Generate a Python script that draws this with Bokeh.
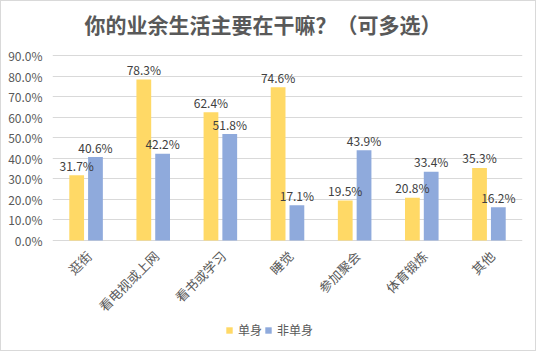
import math
from bokeh.plotting import figure
from bokeh.models import (ColumnDataSource, Legend, LegendItem, PrintfTickFormatter,
                          FixedTicker, Range1d)
from bokeh.transform import dodge
from bokeh.core.properties import value
from bokeh.embed import file_html
from bokeh.resources import INLINE

# ---- data ----
categories = ["逛街", "看电视或上网", "看书或学习", "睡觉", "参加聚会", "体育锻炼", "其他"]
single = [31.7, 78.3, 62.4, 74.6, 19.5, 20.8, 35.3]
non_single = [40.6, 42.2, 51.8, 17.1, 43.9, 33.4, 16.2]
series_names = ["单身", "非单身"]
y_ticks = [0, 10, 20, 30, 40, 50, 60, 70, 80, 90]
title_text = "你的业余生活主要在干嘛？（可多选）"

FONT = "Noto Sans CJK SC"
TXT = "#595959"

src = ColumnDataSource(dict(
    cat=categories,
    zero=[0] * len(categories),
    single=single,
    non_single=non_single,
    single_lbl=[f"{v:.1f}%" for v in single],
    non_single_lbl=[f"{v:.1f}%" for v in non_single],
))

# the frame spans (almost) the whole canvas: it also holds the title,
# the rotated category labels and the legend
p = figure(x_range=categories, y_range=Range1d(-54.0, 115.8), width=536, height=351,
           output_backend="svg", toolbar_location=None,
           min_border_left=51, min_border_right=15, min_border_top=1, min_border_bottom=1)
p.styles = {"border": "1px solid #d9d9d9", "box-sizing": "border-box"}

r1 = p.vbar(x=dodge("cat", -0.14, range=p.x_range), top="single", width=0.22,
            source=src, fill_color="#FFD966", line_color=None)
r2 = p.vbar(x=dodge("cat", 0.14, range=p.x_range), top="non_single", width=0.22,
            source=src, fill_color="#8FAADC", line_color=None)

p.text(x=dodge("cat", -0.14, range=p.x_range), y="single", text="single_lbl", source=src,
       text_align="center", text_baseline="alphabetic", y_offset=-10,
       text_font=value(FONT), text_font_size="12px", text_color="#404040")
p.text(x=dodge("cat", 0.14, range=p.x_range), y="non_single", text="non_single_lbl", source=src,
       text_align="center", text_baseline="alphabetic", y_offset=-10,
       text_font=value(FONT), text_font_size="12px", text_color="#404040")

# category labels, rotated 45 degrees
p.text(x="cat", y="zero", text="cat", source=src, angle=math.pi / 4,
       text_align="right", text_baseline="middle", x_offset=3, y_offset=13,
       text_font=value(FONT), text_font_size="13px", text_color=TXT)

# chart title (drawn as text above the 90% line)
title_src = ColumnDataSource(dict(x=[categories[0]], y=[max(y_ticks)], t=[title_text]))
p.text(x=dodge("x", -0.5, range=p.x_range), y="y", text="t", source=title_src,
       text_align="left", text_baseline="middle", x_offset=32, y_offset=-32,
       text_font=value(FONT), text_font_size="21px", text_font_style="bold",
       text_color=TXT)

# axes / grid
p.outline_line_color = None
p.xgrid.grid_line_color = None
p.xaxis.visible = False
p.ygrid.grid_line_color = "#d9d9d9"
p.ygrid.ticker = FixedTicker(ticks=y_ticks)
p.yaxis.ticker = FixedTicker(ticks=y_ticks)
p.yaxis.formatter = PrintfTickFormatter(format="%.1f%%")
p.yaxis.axis_line_color = None
p.yaxis.major_tick_line_color = None
p.yaxis.minor_tick_line_color = None
p.yaxis.major_label_standoff = 4
p.yaxis.major_label_text_font = FONT
p.yaxis.major_label_text_font_size = "12px"
p.yaxis.major_label_text_color = TXT

legend = Legend(items=[LegendItem(label=series_names[0], renderers=[r1]),
                       LegendItem(label=series_names[1], renderers=[r2])],
                orientation="horizontal", location=(173, 13),
                glyph_width=8, glyph_height=8, label_standoff=5, spacing=2,
                padding=0, margin=0, background_fill_alpha=0, border_line_color=None,
                label_text_font=FONT, label_text_font_size="12px", label_text_color=TXT,
                label_height=14, label_width=10)
p.add_layout(legend, "center")

open("out.html", "w").write(file_html(p, INLINE))
